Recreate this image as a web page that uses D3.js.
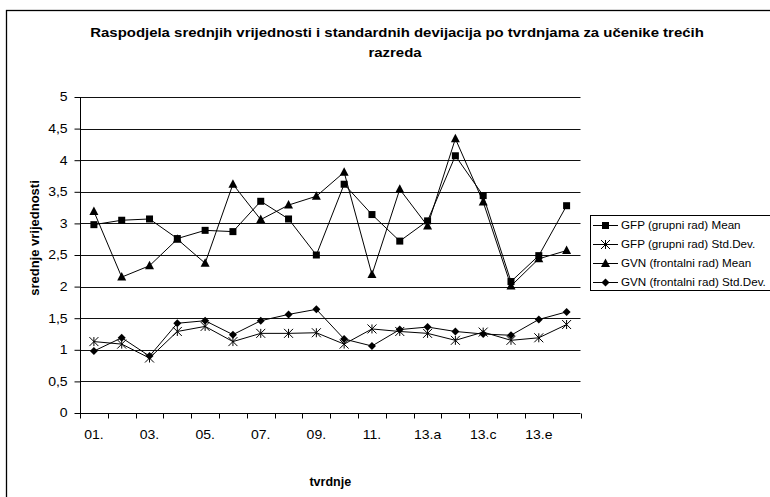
<!DOCTYPE html>
<html>
<head>
<meta charset="utf-8">
<script src="https://cdn.jsdelivr.net/npm/d3@7"></script>
<style>
  html, body { margin: 0; padding: 0; background: #fff; }
  svg { display: block; font-family: "Liberation Sans", Arial, sans-serif; }
</style>
</head>
<body>
<svg id="chart" width="770" height="497"></svg>
<script>
const categories = ["01.","02.","03.","04.","05.","06.","07.","08.","09.","10.","11.","12.","13.a","13.b","13.c","13.d","13.e","13.f"];
const tickLabels = ["01.","03.","05.","07.","09.","11.","13.a","13.c","13.e"];
const yTicks = [0,0.5,1,1.5,2,2.5,3,3.5,4,4.5,5];

const gfpMean = [2.98,3.05,3.07,2.76,2.89,2.87,3.35,3.07,2.50,3.62,3.14,2.72,3.04,4.07,3.44,2.08,2.49,3.28];
const gfpSD   = [1.13,1.09,0.87,1.29,1.37,1.13,1.26,1.26,1.27,1.09,1.33,1.29,1.26,1.15,1.28,1.15,1.19,1.40];
const gvnMean = [3.19,2.15,2.33,2.75,2.37,3.62,3.06,3.29,3.43,3.81,2.19,3.54,2.96,4.34,3.34,2.01,2.44,2.57];
const gvnSD   = [0.98,1.19,0.90,1.42,1.46,1.24,1.46,1.56,1.64,1.17,1.06,1.32,1.36,1.29,1.25,1.23,1.48,1.60];

const seriesNames = ["GFP (grupni rad) Mean","GFP (grupni rad) Std.Dev.","GVN (frontalni rad) Mean","GVN (frontalni rad) Std.Dev."];
const markers = ["square","star","triangle","diamond"];

const series = [gfpMean, gfpSD, gvnMean, gvnSD].map((v,i)=>({name:seriesNames[i], values:v, marker:markers[i]}));

const svg = d3.select("#chart");
const plot = {left:80, right:580.5, top:97, bottom:413};
const SX = 1.17;

function stretchText(parent, x, y, sx, txt, size, anchor, bold) {
  const g = parent.append("g").attr("transform",`translate(${x},${y}) scale(${sx},1)`);
  g.append("text").attr("x",0).attr("y",0).attr("text-anchor",anchor||"start")
    .attr("font-size",size+"px").attr("font-weight",bold?"bold":"normal").attr("fill","#000").text(txt);
  return g;
}

// outer frame
svg.append("rect").attr("x",6.5).attr("y",10.5).attr("width",800).attr("height",500)
  .attr("fill","none").attr("stroke","#000").attr("stroke-width",1.3);

const x = d3.scaleBand().domain(categories).range([plot.left, plot.right]).padding(0);
const y = d3.scaleLinear().domain([0,5]).range([plot.bottom, plot.top]);

// gridlines
svg.append("g").selectAll("line").data(yTicks.filter(d=>d>0)).join("line")
  .attr("x1",plot.left).attr("x2",plot.right)
  .attr("y1",d=>Math.round(y(d))+0.5).attr("y2",d=>Math.round(y(d))+0.5)
  .attr("stroke","#111").attr("stroke-width",1);

// y axis
const yAxis = d3.axisLeft(y).tickValues(yTicks).tickSize(6).tickPadding(5)
  .tickFormat(d=>String(d).replace(".",","));
const gy = svg.append("g").attr("transform",`translate(${plot.left+0.5},0)`).call(yAxis);
gy.selectAll("text").attr("font-size","12px").attr("fill","#000")
  .attr("font-family","'Liberation Sans', Arial, sans-serif")
  .attr("transform",`scale(${SX},1)`);
gy.selectAll("line").attr("stroke","#000");
gy.select(".domain").attr("stroke","#000").attr("d",`M0,${plot.top}V${plot.bottom}`);

// x axis
const gx = svg.append("g").attr("transform",`translate(0,${Math.round(plot.bottom)+0.5})`);
gx.append("line").attr("x1",plot.left).attr("x2",plot.right).attr("stroke","#000");
const bounds = d3.range(categories.length+1).map(i=> i<categories.length ? x(categories[i]) : plot.right);
gx.selectAll("line.tk").data(bounds).join("line").attr("class","tk")
  .attr("x1",d=>Math.round(d)+0.5).attr("x2",d=>Math.round(d)+0.5).attr("y1",0).attr("y2",5)
  .attr("stroke","#000");
tickLabels.forEach(t=>stretchText(gx, x(t)+x.bandwidth()/2, 25, SX, t, 12, "middle", false));

// titles
stretchText(svg, 397, 37, 1.15, "Raspodjela srednjih vrijednosti i standardnih devijacija po tvrdnjama za učenike trećih", 13, "middle", true);
stretchText(svg, 395, 57, 1.15, "razreda", 13, "middle", true);

svg.append("text").attr("x",(plot.left+plot.right)/2).attr("y",486).attr("text-anchor","middle")
  .attr("font-weight","bold").attr("font-size","12.5px").text("tvrdnje");
svg.append("text").attr("transform",`translate(39,238) rotate(-90)`)
  .attr("text-anchor","middle").attr("font-weight","bold").attr("font-size","13px").text("srednje vrijednosti");

// marker drawing
function drawMarker(g, type, cx, cy) {
  if (type==="square") {
    g.append("rect").attr("x",cx-3.5).attr("y",cy-3.5).attr("width",7).attr("height",7).attr("fill","#000");
  } else if (type==="triangle") {
    g.append("path").attr("d",`M${cx},${cy-5}L${cx+4.5},${cy+3.5}L${cx-4.5},${cy+3.5}Z`).attr("fill","#000");
  } else if (type==="diamond") {
    g.append("path").attr("d",`M${cx},${cy-4}L${cx+4},${cy}L${cx},${cy+4}L${cx-4},${cy}Z`).attr("fill","#000");
  } else if (type==="star") {
    const r=4.5;
    g.append("path").attr("d",`M${cx-r},${cy-r}L${cx+r},${cy+r}M${cx-r},${cy+r}L${cx+r},${cy-r}M${cx},${cy-r}L${cx},${cy+r}`)
      .attr("stroke","#000").attr("stroke-width",1).attr("fill","none");
  }
}

const line = d3.line().x((d,i)=>x(categories[i])+x.bandwidth()/2).y(d=>y(d));
series.forEach(s=>{
  const g = svg.append("g");
  g.append("path").attr("d",line(s.values)).attr("fill","none").attr("stroke","#000").attr("stroke-width",1);
  s.values.forEach((v,i)=>drawMarker(g, s.marker, x(categories[i])+x.bandwidth()/2, y(v)));
});

// legend
const lg = svg.append("g");
lg.append("rect").attr("x",590.5).attr("y",215.5).attr("width",200).attr("height",75)
  .attr("fill","#fff").attr("stroke","#000").attr("stroke-width",1);
const rowY = [225,244,263,282];
series.forEach((s,i)=>{
  lg.append("line").attr("x1",593).attr("x2",618).attr("y1",rowY[i]+0.5).attr("y2",rowY[i]+0.5).attr("stroke","#000");
  drawMarker(lg, s.marker, 605.5, rowY[i]+0.5);
  stretchText(lg, 621, rowY[i]+4, 1.06, s.name, 11, "start", false);
});
</script>
</body>
</html>
